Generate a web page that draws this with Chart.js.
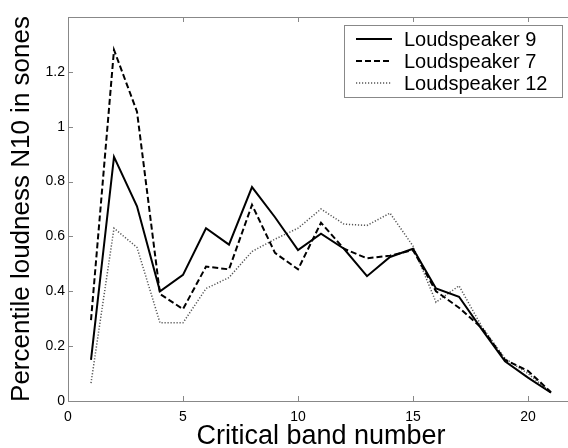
<!DOCTYPE html>
<html>
<head>
<meta charset="utf-8">
<script src="https://cdn.jsdelivr.net/npm/chart.js@4.4.0/dist/chart.umd.min.js"></script>
<style>
html, body { margin: 0; padding: 0; overflow: hidden; background: #fff; }
#wrap { width: 576px; height: 448px; }
</style>
</head>
<body>
<div id="wrap"><canvas id="graficoSonoridad" width="576" height="448"></canvas></div>
<script>
// datos
const bandas = [1, 2, 3, 4, 5, 6, 7, 8, 9, 10, 11, 12, 13, 14, 15, 16, 17, 18, 19, 20, 21];
const altavoz9 = [0.15, 0.89, 0.71, 0.40, 0.46, 0.63, 0.57, 0.78, 0.67, 0.55, 0.61, 0.555, 0.455, 0.525, 0.555, 0.41, 0.38, 0.26, 0.145, 0.085, 0.03];
const altavoz7 = [0.295, 1.28, 1.055, 0.39, 0.335, 0.49, 0.48, 0.715, 0.54, 0.48, 0.65, 0.555, 0.52, 0.53, 0.55, 0.40, 0.34, 0.265, 0.15, 0.11, 0.032];
const altavoz12 = [0.065, 0.63, 0.56, 0.285, 0.285, 0.41, 0.45, 0.545, 0.59, 0.63, 0.70, 0.645, 0.64, 0.685, 0.565, 0.36, 0.42, 0.27, 0.155, 0.10, 0.03];
const etiquetas = ["Loudspeaker 9", "Loudspeaker 7", "Loudspeaker 12"];
const ticksX = [0, 5, 10, 15, 20];
const ticksY = [0, 0.2, 0.4, 0.6, 0.8, 1, 1.2];

const fuente = "'Liberation Sans', Arial, sans-serif";
const gris = "#888";

function puntos(valores) {
    return bandas.map(function(b, i) {
        return { x: b, y: valores[i] };
    });
}

// marcas hacia dentro y caja de ejes (estilo matlab)
const marcasInternas = {
    id: "marcasInternas",
    afterDatasetsDraw: function(chart) {
        const ctx = chart.ctx;
        const area = chart.chartArea;
        const sx = chart.scales.x;
        const sy = chart.scales.y;
        ctx.save();
        ctx.strokeStyle = gris;
        ctx.lineWidth = 1;
        ctx.beginPath();
        ticksX.forEach(function(v) {
            const px = Math.round(sx.getPixelForValue(v)) + 0.5;
            ctx.moveTo(px, area.bottom);
            ctx.lineTo(px, area.bottom - 5);
            ctx.moveTo(px, area.top);
            ctx.lineTo(px, area.top + 5);
        });
        ticksY.forEach(function(v) {
            const py = Math.round(sy.getPixelForValue(v)) + 0.5;
            ctx.moveTo(area.left, py);
            ctx.lineTo(area.left + 5, py);
            ctx.moveTo(area.right, py);
            ctx.lineTo(area.right - 5, py);
        });
        ctx.stroke();
        ctx.strokeRect(Math.round(area.left) + 0.5, Math.round(area.top) + 0.5,
            Math.round(area.right - area.left), Math.round(area.bottom - area.top));
        ctx.restore();
    }
};

// leyenda con recuadro
const leyendaCaja = {
    id: "leyendaCaja",
    afterDraw: function(chart) {
        const ctx = chart.ctx;
        const x0 = 344, y0 = 25, ancho = 218, alto = 72;
        ctx.save();
        ctx.fillStyle = "#fff";
        ctx.fillRect(x0, y0, ancho, alto);
        ctx.strokeStyle = gris;
        ctx.lineWidth = 1;
        ctx.strokeRect(x0 + 0.5, y0 + 0.5, ancho, alto);
        chart.data.datasets.forEach(function(ds, i) {
            const yy = y0 + 14 + i * 22;
            ctx.beginPath();
            ctx.strokeStyle = ds.borderColor;
            ctx.lineWidth = ds.borderWidth;
            ctx.setLineDash(ds.borderDash || []);
            ctx.moveTo(356, yy);
            ctx.lineTo(392, yy);
            ctx.stroke();
            ctx.setLineDash([]);
            ctx.fillStyle = "#000";
            ctx.font = "20px " + fuente;
            ctx.textBaseline = "middle";
            ctx.textAlign = "left";
            ctx.fillText(ds.label, 404, yy + 1);
        });
        ctx.restore();
    }
};

const grafico = document.getElementById("graficoSonoridad").getContext("2d");
const chart = new Chart(grafico, {
    type: "line",
    data: {
        datasets: [
            {
                label: etiquetas[0],
                data: puntos(altavoz9),
                borderColor: "#000",
                borderWidth: 2,
                pointRadius: 0,
                tension: 0
            },
            {
                label: etiquetas[1],
                data: puntos(altavoz7),
                borderColor: "#000",
                borderWidth: 2,
                borderDash: [6, 3],
                pointRadius: 0,
                tension: 0
            },
            {
                label: etiquetas[2],
                data: puntos(altavoz12),
                borderColor: "#555",
                borderWidth: 1.5,
                borderDash: [1.2, 1.8],
                pointRadius: 0,
                tension: 0
            }
        ]
    },
    options: {
        responsive: false,
        animation: false,
        layout: { padding: { top: 17, right: 2, left: 0, bottom: 0 } },
        plugins: {
            legend: { display: false },
            tooltip: { enabled: false }
        },
        scales: {
            x: {
                type: "linear",
                min: 0,
                max: 22,
                grid: { display: false, drawTicks: false },
                border: { display: false },
                afterBuildTicks: function(scale) {
                    scale.ticks = ticksX.map(function(v) { return { value: v }; });
                },
                afterFit: function(scale) { scale.height = 47; },
                ticks: {
                    color: "#000",
                    font: { family: fuente, size: 14 },
                    padding: 8,
                    maxRotation: 0
                },
                title: {
                    display: true,
                    text: "Critical band number",
                    color: "#000",
                    font: { family: fuente, size: 27, lineHeight: 0.85 },
                    padding: 0
                }
            },
            y: {
                min: 0,
                max: 1.4,
                grid: { display: false, drawTicks: false },
                border: { display: false },
                afterBuildTicks: function(scale) {
                    scale.ticks = ticksY.map(function(v) { return { value: v }; });
                },
                afterFit: function(scale) { scale.width = 68; },
                ticks: {
                    color: "#000",
                    font: { family: fuente, size: 14 },
                    padding: 3,
                    callback: function(v) { return String(+v.toFixed(1)); }
                },
                title: {
                    display: true,
                    text: "Percentile loudness N10 in sones",
                    color: "#000",
                    font: { family: fuente, size: 26, lineHeight: 1.2 },
                    padding: { top: 6, bottom: 0 }
                }
            }
        }
    },
    plugins: [marcasInternas, leyendaCaja]
});
</script>
</body>
</html>
